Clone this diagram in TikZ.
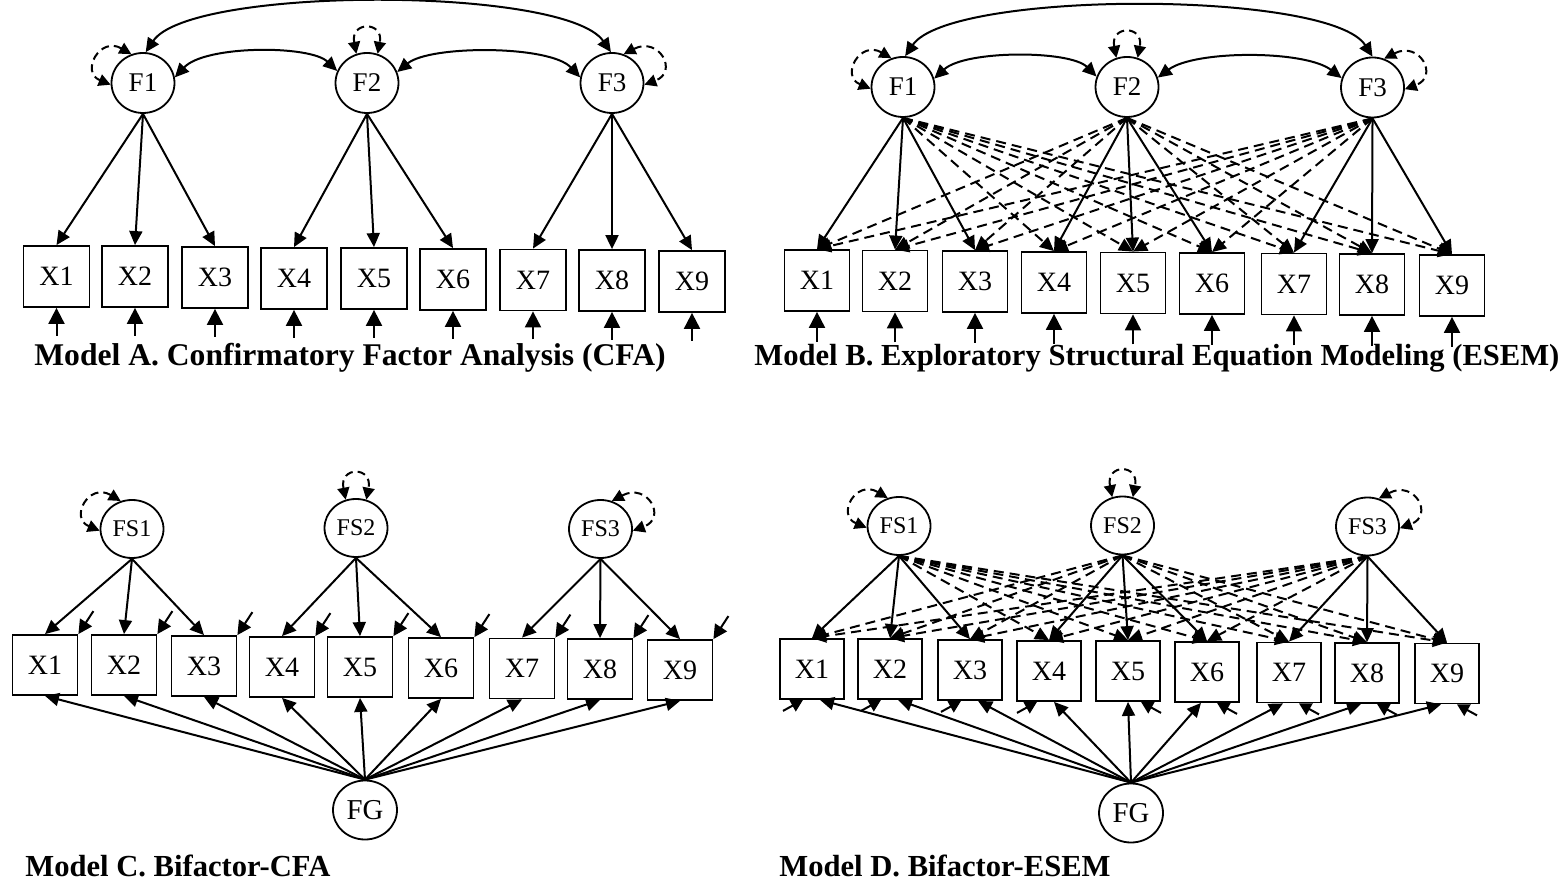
\documentclass[tikz,border=0pt]{standalone}
\usepackage{fontspec}
\setmainfont{Liberation Serif}
\usetikzlibrary{arrows.meta,shapes.geometric,calc}
\newcommand\sloopL[1]{\draw[selfl] (#1.112) .. controls ($(#1)+(-43,-47)$) and ($(#1)+(-63,-11)$) .. (#1.183);}
\newcommand\sloopT[1]{\draw[selfl] (#1.110) .. controls ($(#1)+(-17,-62)$) and ($(#1)+(17,-62)$) .. (#1.70);}
\newcommand\sloopR[1]{\draw[selfl] (#1.68) .. controls ($(#1)+(47,-47)$) and ($(#1)+(67,-11)$) .. (#1.-3);}
\begin{document}
\begin{tikzpicture}[x=0.5pt,y=-0.5pt,
  lat/.style={draw,ellipse,line width=0.9pt,minimum width=31.5pt,minimum height=30pt,inner sep=0pt,font=\fontsize{13.5}{15}\selectfont},
  slat/.style={lat,minimum height=29pt,font=\fontsize{12}{14}\selectfont},
  glat/.style={lat,minimum width=32pt,minimum height=29.5pt,font=\fontsize{14.4}{16}\selectfont},
  obs/.style={draw,rectangle,line width=0.9pt,minimum width=33pt,minimum height=30.5pt,inner sep=0pt,font=\fontsize{14}{16}\selectfont},
  obsc/.style={obs,minimum width=32.5pt,minimum height=30pt},
  load/.style={-{Triangle[length=7pt,width=6.5pt]},line width=1pt},
  xload/.style={load,dash pattern=on 5pt off 3pt},
  cor/.style={{Triangle[length=7pt,width=6.5pt]}-{Triangle[length=7pt,width=6.5pt]},line width=1pt},
  selfl/.style={{Triangle[length=6pt,width=6pt]}-{Triangle[length=6pt,width=6pt]},line width=1pt,dash pattern=on 4pt off 2.5pt},
  res/.style={-{Triangle[length=8pt,width=8pt]},line width=1pt},
  resc/.style={-{Triangle[length=7pt,width=7pt]},line width=1pt},
  resd/.style={-{Triangle[length=6pt,width=6.5pt]},line width=1pt},
  captxt/.style={anchor=base west,inner sep=0pt,font=\fontsize{15.3}{18}\selectfont\bfseries}
]
\useasboundingbox (0,0) rectangle (1566,886);

% ---------------- Model A ----------------
\node[lat] (AF1) at (143,83) {F1};
\node[lat] (AF2) at (367,83) {F2};
\node[lat] (AF3) at (612,83) {F3};
\foreach \i/\x/\y in {1/56.5/276.5,2/135/276.5,3/215/277.5,4/294/278.5,5/374/278.5,6/453/279.5,7/533/280,8/612/280.5,9/692/281.5}{
  \node[obs] (A\i) at (\x,\y) {X\i};
  \coordinate (Ar\i) at ($(A\i.south)+(0,28)$);
  \draw[res] (Ar\i) -- (A\i.south);
}
\foreach \i in {1,2,3} \draw[load] (AF1.south) -- (A\i.north);
\foreach \i in {4,5,6} \draw[load] (AF2.south) -- (A\i.north);
\foreach \i in {7,8,9} \draw[load] (AF3.south) -- (A\i.north);
\draw[cor] (AF1.85) .. controls (190,-14) and (565,-14) .. (AF3.92);
\draw[cor] (AF1.10) .. controls (205,45) and (310,45) .. (AF2.158);
\draw[cor] (AF2.20) .. controls (430,45) and (550,45) .. (AF3.170);
\sloopL{AF1}
\sloopT{AF2}
\sloopR{AF3}
\node[captxt,font=\fontsize{15.8}{18}\selectfont\bfseries] (capA) at (34,366) {Model A. Confirmatory Factor Analysis (CFA)};

% ---------------- Model B ----------------
\node[lat] (BF1) at (903,87) {F1};
\node[lat] (BF2) at (1127,87) {F2};
\node[lat] (BF3) at (1372.5,87.5) {F3};
\foreach \i/\x/\y in {1/817/280.5,2/895/281,3/975/281.5,4/1054/282.5,5/1133/283,6/1212/283.5,7/1294/284,8/1372/284.5,9/1452/285.5}{
  \node[obs,minimum width=32.5pt] (B\i) at (\x,\y) {X\i};
  \coordinate (Br\i) at ($(B\i.south)+(0,30)$);
  \draw[res] (Br\i) -- (B\i.south);
}
\foreach \i in {4,...,9} \draw[xload] (BF1.south) -- (B\i.north);
\foreach \i in {1,2,3,7,8,9} \draw[xload] (BF2.south) -- (B\i.north);
\foreach \i in {1,...,6} \draw[xload] (BF3.south) -- (B\i.north);
\foreach \i in {1,2,3} \draw[load] (BF1.south) -- (B\i.north);
\foreach \i in {4,5,6} \draw[load] (BF2.south) -- (B\i.north);
\foreach \i in {7,8,9} \draw[load] (BF3.south) -- (B\i.north);
\draw[cor] (BF1.86) .. controls (950,-10) and (1330,-10) .. (BF3.90);
\draw[cor] (BF1.15) .. controls (965,50) and (1070,50) .. (BF2.161);
\draw[cor] (BF2.17) .. controls (1195,50) and (1305,50) .. (BF3.163);
\sloopL{BF1}
\sloopT{BF2}
\sloopR{BF3}
\node[captxt] (capB) at (754,366) {Model B. Exploratory Structural Equation Modeling (ESEM)};

% ---------------- Model C ----------------
\node[slat] (CS1) at (132,529) {FS1};
\node[slat] (CS2) at (356,528) {FS2};
\node[slat] (CS3) at (600.5,529) {FS3};
\node[glat] (CG) at (365,810) {FG};
\foreach \i/\x/\y in {1/45/665,2/124/665,3/204/666,4/282/667,5/360/667,6/441/668,7/522/668.5,8/600/669,9/680/670}{
  \node[obsc] (C\i) at (\x,\y) {X\i};
  \coordinate (Cr\i) at ($(C\i.north east)+(15,-23)$);
  \draw[resc] (Cr\i) -- (C\i.north east);
  \draw[load] (CG.north) -- (C\i.south);
}
\foreach \i in {1,2,3} \draw[load] (CS1.south) -- (C\i.north);
\foreach \i in {4,5,6} \draw[load] (CS2.south) -- (C\i.north);
\foreach \i in {7,8,9} \draw[load] (CS3.south) -- (C\i.north);
\sloopL{CS1}
\sloopT{CS2}
\sloopR{CS3}
\node[captxt] (capC) at (25,876) {Model C. Bifactor-CFA};

% ---------------- Model D ----------------
\node[slat] (DS1) at (899,526) {FS1};
\node[slat] (DS2) at (1122.5,525.5) {FS2};
\node[slat] (DS3) at (1367.5,526.5) {FS3};
\node[glat] (DG) at (1131,813) {FG};
\foreach \i/\x/\y/\g/\r/\s in {1/812/669/8/-9/-1,2/890/669/8/-9/-1,3/970/670/8/-9/-1,4/1049/671/5/-12/-1,5/1128/671/0/13/1,6/1207/672/-6/10/1,7/1289/672.5/-6/10/1,8/1367/673/-6/10/1,9/1447/673.5/-6/10/1}{
  \node[obsc,minimum width=32pt] (D\i) at (\x,\y) {X\i};
  \coordinate (Dg\i) at ($(D\i.south)+(\g,0)$);
  \coordinate (Dt\i) at ($(D\i.south)+(\r,0)$);
  \coordinate (Dr\i) at ($(Dt\i)+(20*\s,11)$);
  \draw[load] (DG.north) -- (Dg\i);
  \draw[resd] (Dr\i) -- (Dt\i);
}
\foreach \i in {4,...,9} \draw[xload] (DS1.south) -- (D\i.north);
\foreach \i in {1,2,3,7,8,9} \draw[xload] (DS2.south) -- (D\i.north);
\foreach \i in {1,...,6} \draw[xload] (DS3.south) -- (D\i.north);
\foreach \i in {1,2,3} \draw[load] (DS1.south) -- (D\i.north);
\foreach \i in {4,5,6} \draw[load] (DS2.south) -- (D\i.north);
\foreach \i in {7,8,9} \draw[load] (DS3.south) -- (D\i.north);
\sloopL{DS1}
\sloopT{DS2}
\sloopR{DS3}
\node[captxt] (capD) at (779,876) {Model D. Bifactor-ESEM};
\end{tikzpicture}
\end{document}
